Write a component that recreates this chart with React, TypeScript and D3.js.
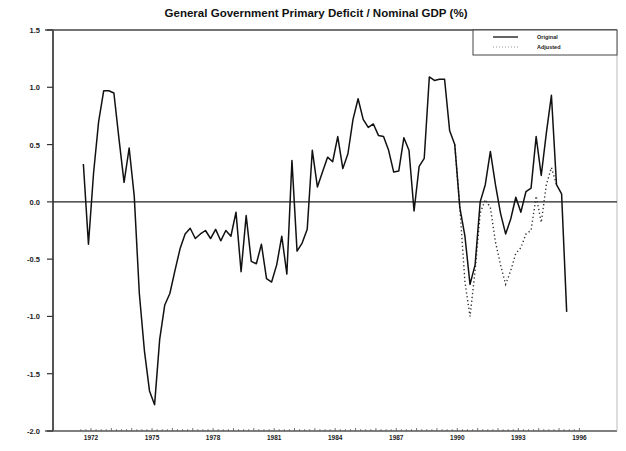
import React from "react";
import { scaleLinear, line, range } from "d3";

// quarterly, first observation 1971 Q3
const startYear = 1971.625;
const actual = [
  0.33, -0.37, 0.25, 0.7, 0.97, 0.97, 0.95, 0.55, 0.17, 0.47,
  0.05, -0.8, -1.3, -1.65, -1.77, -1.2, -0.9, -0.8, -0.6, -0.41,
  -0.28, -0.23, -0.32, -0.28, -0.25, -0.32, -0.24, -0.34, -0.25, -0.3,
  -0.09, -0.61, -0.12, -0.52, -0.54, -0.37, -0.67, -0.7, -0.55, -0.3,
  -0.63, 0.36, -0.43, -0.36, -0.24, 0.45, 0.13, 0.26, 0.39, 0.35,
  0.57, 0.29, 0.42, 0.72, 0.9, 0.72, 0.65, 0.68, 0.58, 0.57,
  0.45, 0.26, 0.27, 0.56, 0.45, -0.08, 0.31, 0.38, 1.09, 1.06,
  1.07, 1.07, 0.62, 0.5, -0.05, -0.3, -0.72, -0.55, 0.0, 0.15,
  0.44, 0.15, -0.1, -0.28, -0.15, 0.04, -0.09, 0.09, 0.12, 0.57,
  0.23, 0.6, 0.93, 0.15, 0.07, -0.96,
];
// adjusted series diverges from 1990 (index 73)
const adjustedStart = 73;
const adjusted = [
  0.5, -0.05, -0.7, -1.0, -0.6, -0.1, 0.02, -0.05, -0.35, -0.55,
  -0.72, -0.6, -0.45, -0.4, -0.28, -0.25, 0.05, -0.18, 0.15, 0.3,
  0.15,
];
const yTicks = [1.5, 1.0, 0.5, 0.0, -0.5, -1.0, -1.5, -2.0];
const xLabels = [1972, 1975, 1978, 1981, 1984, 1987, 1990, 1993, 1996];
const legendNames = ["Original", "Adjusted"];
const title = "General Government Primary Deficit / Nominal GDP (%)";

export default function App() {
  const left = 53;
  const right = 617;
  const top = 30;
  const bottom = 431;

  const x = scaleLinear().domain([1972, 1996]).range([91, 579.4]);
  const y = scaleLinear().domain([-2, 1.5]).range([bottom, top]);

  const pts = actual.map((v, i) => [startYear + i * 0.25, v] as [number, number]);
  const adjPts = adjusted.map(
    (v, i) => [startYear + (adjustedStart + i) * 0.25, v] as [number, number]
  );
  const path = line<[number, number]>()
    .x((d) => x(d[0]))
    .y((d) => y(d[1]));

  const quarters = range(1971.5, 1996.01, 0.25);

  return (
    <svg
      width={626}
      height={451}
      style={{ position: "absolute", left: 0, top: 0, background: "white" }}
      fontFamily="Liberation Sans, Arial, sans-serif"
    >
      <text
        x={316}
        y={17}
        textAnchor="middle"
        fontSize={10.5}
        fontWeight="bold"
        textLength={303}
        lengthAdjust="spacingAndGlyphs"
        fill="#111"
      >
        {title}
      </text>

      {/* frame */}
      <line x1={45} x2={right} y1={top} y2={top} stroke="#444" strokeWidth={1.5} />
      <line x1={45} x2={right} y1={bottom} y2={bottom} stroke="#555" strokeWidth={1.5} />
      <line x1={left} x2={left} y1={top} y2={bottom} stroke="#555" strokeWidth={2} />
      <line x1={right} x2={right} y1={top} y2={bottom} stroke="#bbb" strokeWidth={1} />

      {/* y axis */}
      {yTicks.map((t) => (
        <g key={t}>
          <line x1={47} x2={left} y1={y(t)} y2={y(t)} stroke="#333" strokeWidth={1.2} />
          <text
            x={40}
            y={y(t) + 3}
            textAnchor="end"
            fontSize={7.5}
            fontWeight="bold"
            fill="#222"
          >
            {t.toFixed(1)}
          </text>
        </g>
      ))}

      {/* zero line */}
      <line x1={left} x2={right} y1={y(0)} y2={y(0)} stroke="#222" strokeWidth={1.3} />

      {/* x axis */}
      {quarters.map((q, i) => (
        <line
          key={i}
          x1={x(q)}
          x2={x(q)}
          y1={bottom - (Math.abs(q - Math.round(q)) < 0.01 ? 3 : 1.8)}
          y2={bottom}
          stroke="#555"
          strokeWidth={0.8}
        />
      ))}
      {xLabels.map((yr) => (
        <text
          key={yr}
          x={x(yr)}
          y={440}
          textAnchor="middle"
          fontSize={6.5}
          fontWeight="bold"
          fill="#222"
        >
          {yr}
        </text>
      ))}

      {/* series */}
      <path
        d={path(adjPts) || ""}
        fill="none"
        stroke="#333"
        strokeWidth={1.4}
        strokeDasharray="1.3 2.6"
      />
      <path d={path(pts) || ""} fill="none" stroke="#111" strokeWidth={1.5} strokeLinejoin="round" />

      {/* legend */}
      <rect x={473} y={top} width={right - 473} height={25} fill="white" stroke="#444" strokeWidth={1} />
      <line x1={493} x2={518} y1={37} y2={37} stroke="#111" strokeWidth={1.3} />
      <line x1={493} x2={518} y1={47} y2={47} stroke="#999" strokeWidth={1} strokeDasharray="1 2" />
      {legendNames.map((n, i) => (
        <text key={n} x={537} y={39 + i * 10} fontSize={5.5} fontWeight="bold" fill="#222">
          {n}
        </text>
      ))}
    </svg>
  );
}
